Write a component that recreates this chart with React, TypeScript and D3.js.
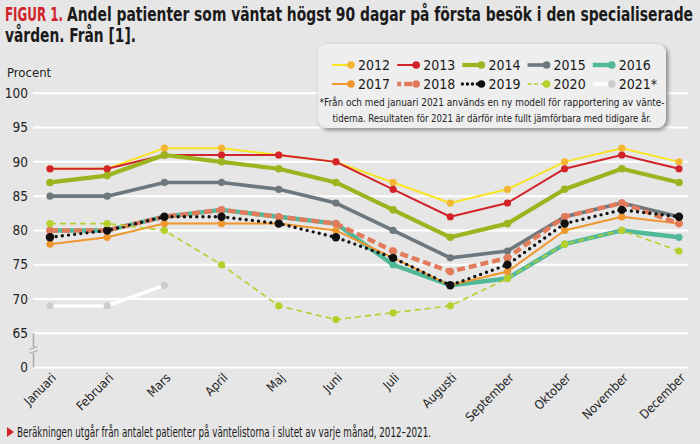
import React from 'react';
import * as d3 from 'd3';

/* ── Data ─────────────────────────────────────────────────────── */
const months = [
  'Januari', 'Februari', 'Mars', 'April', 'Maj', 'Juni',
  'Juli', 'Augusti', 'September', 'Oktober', 'November', 'December'
];

const yTicks = [65, 70, 75, 80, 85, 90, 95, 100];

const v2012 = [89, 89, 92, 92, 91, 90, 87, 84, 86, 90, 92, 90];
const v2013 = [89, 89, 91, 91, 91, 90, 86, 82, 84, 89, 91, 89];
const v2014 = [87, 88, 91, 90, 89, 87, 83, 79, 81, 86, 89, 87];
const v2015 = [85, 85, 87, 87, 86, 84, 80, 76, 77, 82, 84, 82];
const v2016 = [80, 80, 82, 83, 82, 81, 75, 72, 73, 78, 80, 79];
const v2017 = [78, 79, 81, 81, 81, 80, 76, 72, 74, 80, 82, 81];
const v2018 = [80, 80, 82, 83, 82, 81, 77, 74, 76, 82, 84, 81];
const v2019 = [79, 80, 82, 82, 81, 79, 76, 72, 75, 81, 83, 82];
const v2020 = [81, 81, 80, 75, 69, 67, 68, 69, 73, 78, 80, 77];
const v2021 = [69, 69, 72];

interface Series {
  name: string;
  values: number[];
  line: string;
  dot: string;
  width: number;
  dash?: string;
  legendDash?: string;
  cap?: 'round' | 'butt';
  r: number;
}

const series: Series[] = [
  { name: '2012', values: v2012, line: '#f9e424', dot: '#f4b533', width: 2, r: 3.6 },
  { name: '2013', values: v2013, line: '#d2232a', dot: '#d2232a', width: 2, r: 3.6 },
  { name: '2014', values: v2014, line: '#9cb41f', dot: '#9cb41f', width: 4.2, r: 3.8 },
  { name: '2015', values: v2015, line: '#6c777e', dot: '#6c777e', width: 3.6, r: 3.6 },
  { name: '2016', values: v2016, line: '#52b89a', dot: '#52b89a', width: 4.4, r: 3.6 },
  { name: '2017', values: v2017, line: '#f0962f', dot: '#f0962f', width: 2, r: 3.6 },
  { name: '2018', values: v2018, line: '#e27b5c', dot: '#e27b5c', width: 4.4, dash: '8 4', legendDash: '4 3 8 3', r: 3.8 },
  { name: '2019', values: v2019, line: '#111111', dot: '#111111', width: 3.4, dash: '0 6.2', legendDash: '0 5', cap: 'round', r: 4.2 },
  { name: '2020', values: v2020, line: '#b7cf2b', dot: '#b7cf2b', width: 1.6, dash: '6 4', legendDash: '4 2.5', r: 3.6 },
  { name: '2021*', values: v2021, line: '#ffffff', dot: '#cdcdcd', width: 3.4, r: 3.6 }
];

/* ── Layout ───────────────────────────────────────────────────── */
const W = 700;
const H = 444;
const BG = '#e6e6e6';
const FONT = "'Liberation Sans Narrow', 'DejaVu Sans Condensed', 'Roboto', sans-serif";

const x = d3.scalePoint<string>().domain(months).range([50, 679]);
const y = d3.scaleLinear().domain([65, 100]).range([333.3, 93.3]);
const step = y(65) - y(70);
const yZero = y(65) + step;
const gridLeft = 33;
const gridRight = 688;
const breakY = (y(65) + yZero) / 2;

const lineGen = d3
  .line<number>()
  .x((_, i) => x(months[i])!)
  .y(d => y(d));

/* Text squeezed horizontally to a given width (condensed look) */
const Narrow: React.FC<{
  x: number;
  y: number;
  width: number;
  sx: number;
  size: number;
  fill: string;
  weight?: string;
  anchor?: 'start' | 'middle';
  children: React.ReactNode;
}> = ({ x, y, width, sx, size, fill, weight, anchor = 'start', children }) => (
  <g transform={`translate(${x},${y}) scale(${sx},1)`}>
    <text
      x={0}
      y={0}
      fontSize={size}
      fontWeight={weight}
      fill={fill}
      textAnchor={anchor}
      textLength={width / sx}
      lengthAdjust="spacingAndGlyphs"
    >
      {children}
    </text>
  </g>
);

export default function App() {
  return (
    <svg
      width={W}
      height={H}
      style={{ position: 'absolute', left: 0, top: 0, background: BG }}
      fontFamily={FONT}
    >
      <rect width={W} height={H} fill={BG} />

      {/* Title */}
      <Narrow x={5} y={21} width={58} sx={0.7} size={19.5} weight="bold" fill="#d2232a">
        FIGUR 1.
      </Narrow>
      <Narrow x={67} y={21} width={626} sx={0.7} size={19.5} weight="bold" fill="#1a1a1a">
        Andel patienter som väntat högst 90 dagar på första besök i den specialiserade
      </Narrow>
      <Narrow x={5} y={42} width={131} sx={0.7} size={19.5} weight="bold" fill="#1a1a1a">
        vården. Från [1].
      </Narrow>

      {/* Y axis label */}
      <text x={7} y={77} fontSize={13} fill="#222">Procent</text>

      {/* Grid */}
      {yTicks.map(t => (
        <g key={t}>
          <line x1={gridLeft} x2={gridRight} y1={y(t)} y2={y(t)} stroke="#fff" strokeWidth={2} />
          <text x={28} y={y(t)} dy="0.35em" textAnchor="end" fontSize={13.5} fill="#222">
            {t}
          </text>
        </g>
      ))}
      <line x1={gridLeft} x2={gridRight} y1={yZero} y2={yZero} stroke="#fff" strokeWidth={2} />
      <text x={28} y={yZero} dy="0.35em" textAnchor="end" fontSize={13.5} fill="#222">
        0
      </text>

      {/* Broken axis */}
      <line x1={33.5} x2={33.5} y1={y(65)} y2={yZero} stroke="#a9a9a9" strokeWidth={1.5} />
      <rect x={29} y={breakY - 3} width={9} height={6} fill={BG} />
      <line x1={29.5} x2={37.5} y1={breakY - 1} y2={breakY - 4} stroke="#a9a9a9" strokeWidth={1.2} />
      <line x1={29.5} x2={37.5} y1={breakY + 3} y2={breakY} stroke="#a9a9a9" strokeWidth={1.2} />

      {/* X labels */}
      {months.map(m => (
        <text
          key={m}
          transform={`translate(${x(m)! + 7},${yZero + 11}) rotate(-45)`}
          textAnchor="end"
          fontSize={12.5}
          fill="#222"
        >
          {m}
        </text>
      ))}

      {/* Series */}
      {series.map(s => (
        <g key={s.name}>
          <path
            d={lineGen(s.values) || ''}
            fill="none"
            stroke={s.line}
            strokeWidth={s.width}
            strokeDasharray={s.dash}
            strokeLinecap={s.cap || 'butt'}
            strokeLinejoin="round"
          />
          {s.values.map((v, i) => (
            <circle key={i} cx={x(months[i])!} cy={y(v)} r={s.r} fill={s.dot} />
          ))}
        </g>
      ))}

      {/* Legend */}
      <defs>
        <filter id="shadow" x="-10%" y="-10%" width="130%" height="140%">
          <feDropShadow dx={2} dy={2} stdDeviation={2} floodColor="#000" floodOpacity={0.45} />
        </filter>
      </defs>
      <rect x={318} y={44} width={348} height={84} rx={9} fill="#eeeeee" filter="url(#shadow)" />
      {series.map((s, i) => {
        const col = i % 5;
        const row = Math.floor(i / 5);
        const lx = 332 + col * 65.2;
        const ly = 65 + row * 19;
        return (
          <g key={s.name}>
            <line
              x1={lx}
              x2={lx + 18}
              y1={ly}
              y2={ly}
              stroke={s.line}
              strokeWidth={s.width}
              strokeDasharray={s.legendDash}
              strokeLinecap={s.cap || 'butt'}
            />
            <circle cx={lx + 19} cy={ly} r={3.8} fill={s.dot} />
            <text x={lx + 26} y={ly} dy="0.36em" fontSize={14} fill="#1a1a1a">
              {s.name}
            </text>
          </g>
        );
      })}
      <Narrow x={492} y={106} width={345} sx={0.8} size={11} fill="#222" anchor="middle">
        *Från och med januari 2021 används en ny modell för rapportering av vänte-
      </Narrow>
      <Narrow x={492} y={122} width={319} sx={0.8} size={11} fill="#222" anchor="middle">
        tiderna. Resultaten för 2021 är därför inte fullt jämförbara med tidigare år.
      </Narrow>

      {/* Footnote */}
      <path d="M7,427 L14,432 L7,437 Z" fill="#d2232a" />
      <Narrow x={17} y={437} width={414} sx={0.85} size={13.5} fill="#1a1a1a">
        Beräkningen utgår från antalet patienter på väntelistorna i slutet av varje månad, 2012–2021.
      </Narrow>
    </svg>
  );
}
